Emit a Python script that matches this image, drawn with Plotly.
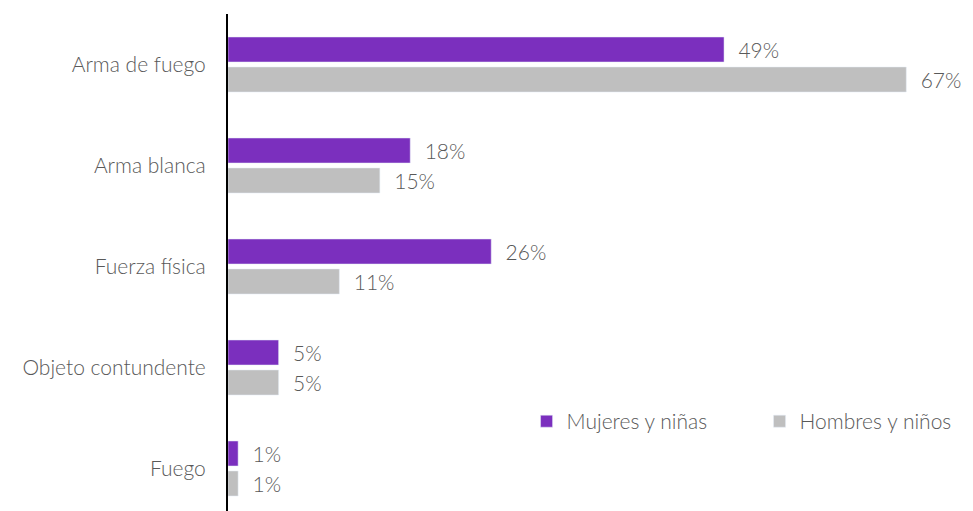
import plotly.graph_objects as go

categories = ["Arma de fuego", "Arma blanca", "Fuerza física", "Objeto contundente", "Fuego"]
mujeres = [49, 18, 26, 5, 1]
hombres = [67, 15, 11, 5, 1]
series_names = ["Mujeres y niñas", "Hombres y niños"]

FONT = "Lato"
TXT = "#595959"
W = 300
SZ = 21

fig = go.Figure()
fig.add_trace(go.Bar(
    y=categories, x=mujeres, orientation="h", name=series_names[0],
    marker=dict(color="#7B2FBE"),
    texttemplate="\u00a0\u00a0%{x}%", textposition="outside",
    textfont=dict(family=FONT, size=SZ, color=TXT, weight=W), cliponaxis=False,
))
fig.add_trace(go.Bar(
    y=categories, x=hombres, orientation="h", name=series_names[1],
    marker=dict(color="#BFBFBF"),
    texttemplate="\u00a0\u00a0%{x}%", textposition="outside",
    textfont=dict(family=FONT, size=SZ, color=TXT, weight=W), cliponaxis=False,
))

fig.update_layout(
    width=973, height=511,
    margin=dict(l=228, r=6, t=14, b=0, autoexpand=False),
    paper_bgcolor="white", plot_bgcolor="white",
    barmode="group", bargap=0.406, bargroupgap=0.167,
    font=dict(family=FONT, size=SZ, color=TXT, weight=W),
    legend=dict(
        orientation="h", x=0.404, xanchor="left", y=0.18, yanchor="middle",
        font=dict(family=FONT, size=SZ, color=TXT, weight=W),
        itemwidth=30, traceorder="normal", entrywidthmode="pixels", entrywidth=188,
    ),
    showlegend=True,
)
fig.update_xaxes(range=[0, 73], visible=False, showgrid=False, zeroline=False, automargin=False)
fig.update_yaxes(
    categoryorder="array", categoryarray=categories,
    range=[4.5 - 8 / 101, -0.5], automargin=False,
    showline=True, linecolor="black", linewidth=2,
    showgrid=False, ticks="", ticklabelstandoff=16,
    tickfont=dict(family=FONT, size=SZ, color=TXT, weight=W),
)

fig.write_html(
    "out.html",
    config={"displayModeBar": False},
    post_script="document.body.style.margin='0';document.body.style.overflow='hidden';",
)
